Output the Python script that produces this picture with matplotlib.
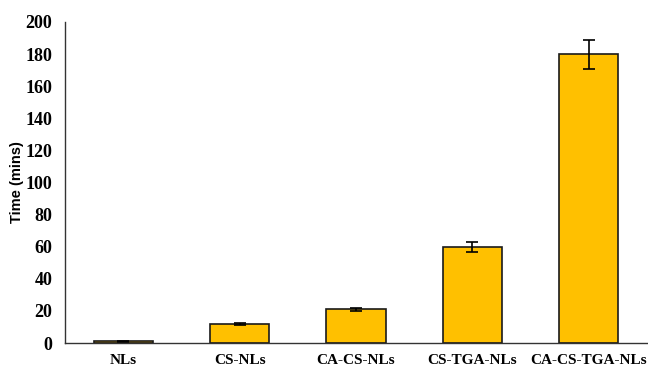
import matplotlib
matplotlib.use("Agg")
import matplotlib.pyplot as plt

categories = ["NLs", "CS-NLs", "CA-CS-NLs", "CS-TGA-NLs", "CA-CS-TGA-NLs"]
times = [1, 12, 21, 60, 180]
errors = [0.5, 0.5, 1, 3, 9]
yticks = [0, 20, 40, 60, 80, 100, 120, 140, 160, 180, 200]

W, H = 648, 366
fig = plt.figure(figsize=(W / 100, H / 100), dpi=100)
ax = fig.add_axes([65 / W, (H - 343) / H, (647 - 65) / W, (343 - 22) / H])

x = list(range(len(categories)))
ax.bar(x, times, width=0.51, color="#FFC000", edgecolor="#1a1a1a", linewidth=1.2,
       yerr=errors, capsize=4, error_kw=dict(ecolor="black", elinewidth=1.2, capthick=1.2),
       zorder=2)

ax.set_xlim(-0.5, 4.5)
ax.set_ylim(0, 200)
ax.set_yticks(yticks)
ax.set_xticks(x)
ax.set_xticklabels(categories, fontfamily="Liberation Serif", fontweight="bold", fontsize=11)
ax.set_yticklabels([str(v) for v in yticks], fontfamily="Liberation Serif", fontweight="bold", fontsize=13)
ax.tick_params(axis="x", length=0, pad=8)
ax.tick_params(axis="y", length=0, pad=9)

ax.set_ylabel("Time (mins)", fontfamily="Liberation Sans", fontweight="bold", fontsize=10.5, labelpad=1.5)

for s in ["top", "right"]:
    ax.spines[s].set_visible(False)
for s in ["left", "bottom"]:
    ax.spines[s].set_color("#333333")
    ax.spines[s].set_linewidth(1.0)

fig.savefig("out.png", dpi=100)
